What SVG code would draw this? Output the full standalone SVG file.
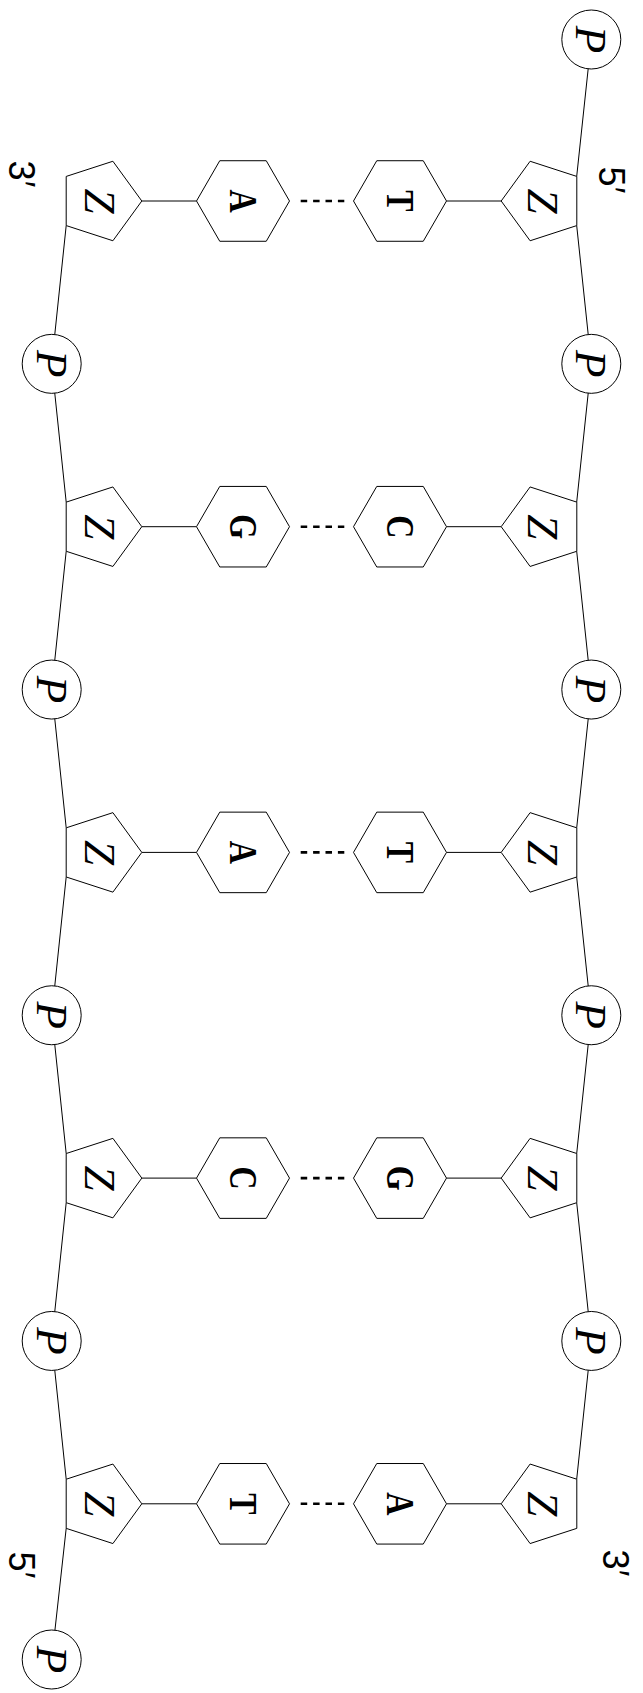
<svg xmlns="http://www.w3.org/2000/svg" width="643" height="1693" viewBox="0 0 643 1693">
<style>
.shape{fill:#fff;stroke:#000;stroke-width:1}
.ln{fill:none;stroke:#000;stroke-width:1}
.hb{fill:none;stroke:#000;stroke-width:2.6;stroke-dasharray:6.5 5.9}
.it{font-family:"Liberation Serif",serif;font-style:italic;font-size:45px;text-anchor:middle;fill:#000}
.base{font-family:"Liberation Serif",serif;font-weight:bold;font-size:40px;text-anchor:middle;fill:#000}
.end{font-family:"Liberation Sans","DejaVu Sans",sans-serif;font-size:36px;text-anchor:middle;fill:#000}
</style>
<defs>
<polygon id="pentR" points="41.8,0 12.9,-39.75 -33.8,-24.57 -33.8,24.57 12.9,39.75"/>
<polygon id="pentL" points="-41.8,0 -12.9,-39.75 33.8,-24.57 33.8,24.57 -12.9,39.75"/>
<polygon id="hex" points="46.5,0 23.25,-40.27 -23.25,-40.27 -46.5,0 -23.25,40.27 23.25,40.27"/>
</defs>
<g id="connectors">
<polyline class="ln" points="591.3,39.5 576.7,176.43"/>
<polyline class="ln" points="576.7,225.57 591.3,363.85 576.7,502.13"/>
<polyline class="ln" points="576.7,551.27 591.3,689.55 576.7,827.83"/>
<polyline class="ln" points="576.7,876.97 591.3,1015.25 576.7,1153.53"/>
<polyline class="ln" points="576.7,1202.67 591.3,1340.95 576.7,1479.23"/>
<polyline class="ln" points="66.2,225.57 51.7,363.85 66.2,502.13"/>
<polyline class="ln" points="66.2,551.27 51.7,689.55 66.2,827.83"/>
<polyline class="ln" points="66.2,876.97 51.7,1015.25 66.2,1153.53"/>
<polyline class="ln" points="66.2,1202.67 51.7,1340.95 66.2,1479.23"/>
<polyline class="ln" points="66.2,1528.37 51.7,1659.5"/>
<line class="ln" x1="141.8" y1="201" x2="196.5" y2="201"/>
<line class="ln" x1="446.5" y1="201" x2="501" y2="201"/>
<line class="hb" x1="300.7" y1="201" x2="344.3" y2="201"/>
<line class="ln" x1="141.8" y1="526.7" x2="196.5" y2="526.7"/>
<line class="ln" x1="446.5" y1="526.7" x2="501" y2="526.7"/>
<line class="hb" x1="300.7" y1="526.7" x2="344.3" y2="526.7"/>
<line class="ln" x1="141.8" y1="852.4" x2="196.5" y2="852.4"/>
<line class="ln" x1="446.5" y1="852.4" x2="501" y2="852.4"/>
<line class="hb" x1="300.7" y1="852.4" x2="344.3" y2="852.4"/>
<line class="ln" x1="141.8" y1="1178.1" x2="196.5" y2="1178.1"/>
<line class="ln" x1="446.5" y1="1178.1" x2="501" y2="1178.1"/>
<line class="hb" x1="300.7" y1="1178.1" x2="344.3" y2="1178.1"/>
<line class="ln" x1="141.8" y1="1503.8" x2="196.5" y2="1503.8"/>
<line class="ln" x1="446.5" y1="1503.8" x2="501" y2="1503.8"/>
<line class="hb" x1="300.7" y1="1503.8" x2="344.3" y2="1503.8"/>
</g>
<g id="pR0"><circle class="shape" cx="591.3" cy="39.5" r="29.5"/><g transform="translate(591.3,39.5) rotate(90)"><text class="it" x="0" y="15">P</text></g></g>
<g id="pR1"><circle class="shape" cx="591.3" cy="363.85" r="29.5"/><g transform="translate(591.3,363.85) rotate(90)"><text class="it" x="0" y="15">P</text></g></g>
<g id="pR2"><circle class="shape" cx="591.3" cy="689.55" r="29.5"/><g transform="translate(591.3,689.55) rotate(90)"><text class="it" x="0" y="15">P</text></g></g>
<g id="pR3"><circle class="shape" cx="591.3" cy="1015.25" r="29.5"/><g transform="translate(591.3,1015.25) rotate(90)"><text class="it" x="0" y="15">P</text></g></g>
<g id="pR4"><circle class="shape" cx="591.3" cy="1340.95" r="29.5"/><g transform="translate(591.3,1340.95) rotate(90)"><text class="it" x="0" y="15">P</text></g></g>
<g id="pL1"><circle class="shape" cx="51.7" cy="363.85" r="29.5"/><g transform="translate(51.7,363.85) rotate(90)"><text class="it" x="0" y="15">P</text></g></g>
<g id="pL2"><circle class="shape" cx="51.7" cy="689.55" r="29.5"/><g transform="translate(51.7,689.55) rotate(90)"><text class="it" x="0" y="15">P</text></g></g>
<g id="pL3"><circle class="shape" cx="51.7" cy="1015.25" r="29.5"/><g transform="translate(51.7,1015.25) rotate(90)"><text class="it" x="0" y="15">P</text></g></g>
<g id="pL4"><circle class="shape" cx="51.7" cy="1340.95" r="29.5"/><g transform="translate(51.7,1340.95) rotate(90)"><text class="it" x="0" y="15">P</text></g></g>
<g id="pL5"><circle class="shape" cx="51.7" cy="1659.5" r="29.5"/><g transform="translate(51.7,1659.5) rotate(90)"><text class="it" x="0" y="15">P</text></g></g>
<g id="zL0"><use href="#pentR" class="shape" x="100" y="201"/><g transform="translate(100,201) rotate(90)"><text class="it" x="0" y="15">Z</text></g></g>
<g id="zL1"><use href="#pentR" class="shape" x="100" y="526.7"/><g transform="translate(100,526.7) rotate(90)"><text class="it" x="0" y="15">Z</text></g></g>
<g id="zL2"><use href="#pentR" class="shape" x="100" y="852.4"/><g transform="translate(100,852.4) rotate(90)"><text class="it" x="0" y="15">Z</text></g></g>
<g id="zL3"><use href="#pentR" class="shape" x="100" y="1178.1"/><g transform="translate(100,1178.1) rotate(90)"><text class="it" x="0" y="15">Z</text></g></g>
<g id="zL4"><use href="#pentR" class="shape" x="100" y="1503.8"/><g transform="translate(100,1503.8) rotate(90)"><text class="it" x="0" y="15">Z</text></g></g>
<g id="zR0"><use href="#pentL" class="shape" x="543" y="201"/><g transform="translate(543,201) rotate(90)"><text class="it" x="0" y="15">Z</text></g></g>
<g id="zR1"><use href="#pentL" class="shape" x="543" y="526.7"/><g transform="translate(543,526.7) rotate(90)"><text class="it" x="0" y="15">Z</text></g></g>
<g id="zR2"><use href="#pentL" class="shape" x="543" y="852.4"/><g transform="translate(543,852.4) rotate(90)"><text class="it" x="0" y="15">Z</text></g></g>
<g id="zR3"><use href="#pentL" class="shape" x="543" y="1178.1"/><g transform="translate(543,1178.1) rotate(90)"><text class="it" x="0" y="15">Z</text></g></g>
<g id="zR4"><use href="#pentL" class="shape" x="543" y="1503.8"/><g transform="translate(543,1503.8) rotate(90)"><text class="it" x="0" y="15">Z</text></g></g>
<g id="bL0"><use href="#hex" class="shape" x="243" y="201"/><g transform="translate(243,201) rotate(90) scale(0.8,1)"><text class="base" x="0" y="13.2">A</text></g></g>
<g id="bR0"><use href="#hex" class="shape" x="400" y="201"/><g transform="translate(400,201) rotate(90) scale(0.8,1)"><text class="base" x="0" y="13.2">T</text></g></g>
<g id="bL1"><use href="#hex" class="shape" x="243" y="526.7"/><g transform="translate(243,526.7) rotate(90) scale(0.8,1)"><text class="base" x="0" y="13.2">G</text></g></g>
<g id="bR1"><use href="#hex" class="shape" x="400" y="526.7"/><g transform="translate(400,526.7) rotate(90) scale(0.8,1)"><text class="base" x="0" y="13.2">C</text></g></g>
<g id="bL2"><use href="#hex" class="shape" x="243" y="852.4"/><g transform="translate(243,852.4) rotate(90) scale(0.8,1)"><text class="base" x="0" y="13.2">A</text></g></g>
<g id="bR2"><use href="#hex" class="shape" x="400" y="852.4"/><g transform="translate(400,852.4) rotate(90) scale(0.8,1)"><text class="base" x="0" y="13.2">T</text></g></g>
<g id="bL3"><use href="#hex" class="shape" x="243" y="1178.1"/><g transform="translate(243,1178.1) rotate(90) scale(0.8,1)"><text class="base" x="0" y="13.2">C</text></g></g>
<g id="bR3"><use href="#hex" class="shape" x="400" y="1178.1"/><g transform="translate(400,1178.1) rotate(90) scale(0.8,1)"><text class="base" x="0" y="13.2">G</text></g></g>
<g id="bL4"><use href="#hex" class="shape" x="243" y="1503.8"/><g transform="translate(243,1503.8) rotate(90) scale(0.8,1)"><text class="base" x="0" y="13.2">T</text></g></g>
<g id="bR4"><use href="#hex" class="shape" x="400" y="1503.8"/><g transform="translate(400,1503.8) rotate(90) scale(0.8,1)"><text class="base" x="0" y="13.2">A</text></g></g>
<g id="lbl-3-top" transform="translate(22,174) rotate(90)"><text class="end" x="0" y="12.9">3′</text></g>
<g id="lbl-5-top" transform="translate(612,180) rotate(90)"><text class="end" x="0" y="12.9">5′</text></g>
<g id="lbl-5-bottom" transform="translate(22,1565) rotate(90)"><text class="end" x="0" y="12.9">5′</text></g>
<g id="lbl-3-bottom" transform="translate(616,1563) rotate(90)"><text class="end" x="0" y="12.9">3′</text></g>
</svg>
